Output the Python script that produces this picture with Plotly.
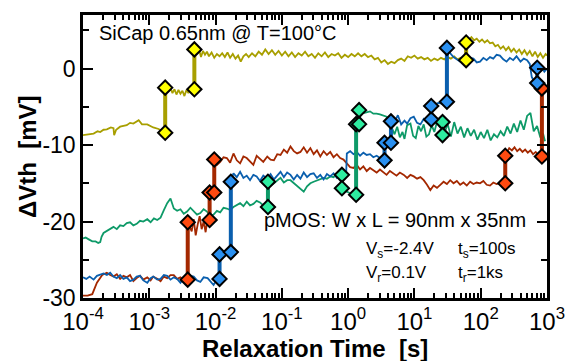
import plotly.graph_objects as go
import numpy as np

# ---------------- data (time given as log10 of seconds, dVth in mV) ----------------
yellow_log10_t = [-4.00,-3.92,-3.84,-3.78,-3.74,-3.69,-3.64,-3.58,-3.54,-3.53,-3.50,-3.44,-3.39,-3.34,-3.29,-3.24,-3.16,-3.11,-3.03,-2.98,-2.94,-2.86,-2.81,-2.76,
                  -2.76,-2.74,-2.71,-2.68,-2.65,-2.62,-2.59,-2.56,-2.53,-2.50,-2.47,-2.44,-2.41,-2.38,-2.35,-2.32,
                  -2.32,-2.28,-2.25,-2.22,-2.19,-2.16,-2.13,-2.10,-2.06,-2.02,-1.98,-1.94,-1.90,-1.86,-1.82,-1.78,-1.74,-1.70,-1.66,-1.62,-1.58,-1.54,-1.50,-1.45,-1.40,-1.35,-1.30,-1.25,-1.20,-1.15,-1.10,-1.05,-1.00,-0.95,-0.90,-0.85,-0.80,-0.75,-0.70,-0.65,-0.60,-0.55,-0.50,-0.45,-0.40,-0.35,-0.30,-0.25,-0.20,-0.15,-0.10,-0.05,0.00,0.05,0.10,0.15,0.20,0.25,0.30,0.35,0.40,0.45,0.50,0.55,0.60,0.65,0.70,0.75,0.80,0.85,0.90,0.95,1.00,1.05,1.10,1.15,1.20,1.25,1.30,1.35,1.40,1.45,1.50,1.55,1.60,1.65,1.70,1.78,
                  1.78,1.82,1.86,1.90,1.94,1.98,2.02,2.06,2.10,2.14,2.18,2.22,2.26,2.30,2.34,2.38,2.42,2.46,2.50,2.54,2.58,2.62,2.66,2.70,2.74,2.78,2.82,2.86,2.90,2.94,2.98,3.00]
yellow_dvth = [-8.7,-8.6,-8.5,-8.2,-8.3,-8.0,-7.96,-7.7,-7.8,-8.7,-8.0,-7.6,-7.5,-7.4,-7.1,-7.2,-6.75,-7.3,-7.3,-7.5,-7.7,-7.9,-8.1,-8.4,
               -2.5,-2.8,-3.0,-2.6,-3.2,-2.7,-3.4,-2.8,-3.3,-2.9,-3.6,-2.8,-3.2,-2.6,-3.1,-2.7,
               2.5,2.0,2.5,1.5,2.3,1.8,2.2,1.6,2.1,1.4,1.9,1.6,2.0,1.5,2.1,1.4,1.9,1.3,1.7,0.9,1.6,1.9,1.5,2.0,1.6,2.2,1.8,2.5,1.9,2.4,1.8,2.3,1.7,2.2,1.6,2.1,1.5,2.0,1.7,2.2,1.6,1.9,1.4,2.0,1.6,2.1,1.5,1.9,1.7,2.0,1.4,1.8,1.5,1.9,1.6,2.0,1.6,1.9,1.5,1.7,1.2,1.4,0.8,1.1,0.6,0.9,0.7,1.1,1.3,1.0,1.6,1.4,1.7,1.3,1.5,1.2,1.4,1.0,1.3,1.1,1.4,1.2,1.5,1.3,1.6,1.2,1.4,1.1,
               3.4,3.8,4.1,3.7,3.9,3.5,3.8,3.4,3.7,3.3,3.4,2.9,3.1,2.6,2.9,2.4,2.8,2.2,2.6,2.1,2.5,1.9,2.4,1.8,2.3,1.6,2.2,1.5,2.0,1.4,1.9,1.7]

blue_log10_t = [-4.00,-3.95,-3.90,-3.84,-3.79,-3.74,-3.69,-3.64,-3.59,-3.54,-3.49,-3.44,-3.39,-3.34,-3.29,-3.24,-3.19,-3.14,-3.09,-3.03,-2.98,-2.94,-2.88,-2.83,-2.78,-2.73,-2.68,-2.63,-2.58,-2.53,-2.48,-2.43,-2.38,-2.33,-2.28,-2.23,-2.18,-2.12,-2.08,-2.03,-1.98,-1.94,
                -1.94,-1.90,-1.86,-1.82,-1.79,-1.77,
                -1.77,-1.73,-1.68,-1.63,-1.58,-1.53,-1.48,-1.43,-1.38,-1.33,-1.28,-1.22,-1.17,-1.12,-1.07,-1.02,-0.97,-0.92,-0.87,-0.82,-0.77,-0.72,-0.67,-0.62,-0.57,-0.52,-0.47,-0.42,-0.37,-0.32,-0.27,-0.22,-0.17,-0.12,-0.07,-0.03,
                -0.02,0.03,0.08,0.13,0.18,0.23,0.28,0.33,0.38,0.43,0.48,0.549,
                0.549,0.60,0.646,
                0.646,0.70,0.75,0.80,0.85,0.89,0.94,0.99,1.04,1.09,1.14,1.19,1.253,
                1.253,1.30,1.36,1.42,1.49,
                1.49,1.54,1.59,1.64,1.69,1.74,1.79,1.84,1.89,1.94,1.99,2.04,2.09,2.14,2.19,2.24,2.29,2.34,2.39,2.44,2.49,2.54,2.60,2.65,2.70,2.74,2.77,2.80,2.852,
                2.852,2.88,2.92,2.96,3.00]
blue_dvth = [-27.3,-27.5,-27.2,-27.6,-27.1,-27.0,-26.8,-27.0,-26.7,-27.2,-27.4,-27.0,-27.5,-27.3,-27.8,-27.6,-27.2,-27.1,-27.7,-28.0,-27.4,-27.2,-27.6,-27.5,-27.0,-27.1,-27.6,-27.3,-27.5,-28.0,-27.4,-27.6,-27.1,-27.2,-27.7,-27.9,-27.3,-27.4,-27.8,-28.3,-27.6,-27.5,
             -24.3,-24.0,-24.5,-23.8,-24.2,-24.0,
             -14.8,-13.7,-14.2,-13.5,-14.3,-14.0,-14.6,-13.9,-14.1,-14.7,-14.0,-14.4,-13.8,-14.5,-14.0,-13.5,-14.2,-13.6,-13.9,-14.5,-13.9,-14.4,-13.6,-14.2,-13.8,-13.7,-14.3,-13.9,-14.5,-13.8,-14.1,-13.7,-14.3,-13.9,-14.2,-13.8,
             -11.1,-10.8,-11.2,-10.9,-11.4,-11.0,-11.3,-11.2,-11.6,-11.4,-11.7,-12.0,
             -9.7,-9.6,-9.7,
             -6.9,-7.0,-6.1,-7.3,-6.8,-7.2,-6.5,-6.3,-7.1,-7.3,-6.6,-7.0,-6.65,
             -4.9,-4.7,-4.5,-4.6,-4.35,
             2.7,2.0,1.5,1.2,0.9,1.3,1.0,1.4,1.3,0.8,0.9,1.4,1.1,1.5,1.3,1.8,1.7,1.2,0.9,1.4,1.1,1.6,0.9,1.3,1.1,0.6,-1.1,-1.6,-1.9,
             0.1,-0.3,0.2,-0.4,0.0]

red_log10_t = [-4.00,-3.93,-3.86,-3.79,-3.71,-3.64,-3.59,-3.54,-3.49,-3.44,-3.39,-3.34,-3.29,-3.24,-3.19,-3.14,-3.09,-3.03,-2.98,-2.94,-2.88,-2.83,-2.78,-2.73,-2.68,-2.63,-2.58,-2.53,-2.48,-2.42,
               -2.42,-2.39,-2.36,-2.33,-2.30,-2.27,-2.24,-2.21,-2.18,-2.15,-2.12,-2.09,
               -2.09,-2.05,-2.02,
               -2.02,-1.98,-1.93,-1.88,-1.83,-1.78,-1.73,-1.68,-1.63,-1.58,-1.53,-1.48,-1.43,-1.38,-1.33,-1.28,-1.22,-1.17,-1.12,-1.07,-1.02,-0.97,-0.92,-0.87,-0.82,-0.77,-0.72,-0.67,-0.62,-0.57,-0.52,-0.47,-0.42,-0.37,-0.32,-0.27,-0.22,-0.17,-0.12,-0.07,-0.02,0.03,0.08,0.13,0.18,0.23,0.28,0.33,0.38,0.43,0.48,0.53,0.58,0.63,0.68,0.73,0.78,0.84,0.89,0.94,0.99,1.04,1.09,1.14,1.19,1.24,1.29,1.34,1.39,1.44,1.49,1.54,1.59,1.64,1.69,1.74,1.79,1.84,1.89,1.94,1.99,2.04,2.09,2.14,2.19,2.24,2.29,2.33,2.37,
               2.37,2.40,2.43,2.47,2.51,2.55,2.59,2.63,2.67,2.71,2.75,2.79,2.83,2.87,2.923,
               2.923,2.96]
red_dvth = [-29.7,-29.7,-29.5,-28.0,-27.0,-26.7,-27.0,-27.2,-26.9,-27.5,-27.1,-27.3,-27.0,-27.8,-27.4,-27.1,-27.6,-27.3,-27.7,-27.2,-27.5,-27.8,-27.2,-27.4,-27.0,-27.0,-27.5,-27.3,-27.7,-27.6,
            -20.1,-20.6,-21.3,-19.7,-21.8,-20.4,-19.3,-21.0,-20.0,-21.4,-19.6,-19.8,
            -16.2,-16.5,-16.2,
            -11.9,-12.6,-12.2,-11.6,-11.7,-12.3,-11.1,-12.0,-12.4,-11.5,-11.7,-12.1,-12.6,-11.4,-11.8,-12.2,-11.5,-11.9,-12.0,-11.2,-11.3,-10.6,-11.0,-10.2,-10.8,-11.1,-10.9,-10.3,-11.0,-10.4,-11.2,-10.7,-11.5,-10.8,-11.3,-10.9,-11.6,-11.2,-11.7,-11.9,-12.4,-12.9,-13.0,-12.6,-13.2,-12.8,-13.4,-13.0,-13.3,-13.6,-13.2,-13.5,-13.9,-13.4,-13.7,-14.0,-13.6,-13.9,-14.3,-13.9,-14.1,-14.4,-14.2,-14.6,-15.2,-15.9,-15.3,-15.6,-15.2,-14.8,-15.1,-14.6,-15.0,-14.7,-15.2,-14.9,-15.3,-14.8,-15.1,-14.9,-15.0,-14.7,-15.2,-15.3,-14.9,-15.1,-15.0,-14.8,-15.0,
            -11.4,-10.9,-10.4,-10.7,-10.3,-10.8,-10.5,-10.9,-10.6,-11.0,-10.7,-11.2,-10.9,-11.3,-11.5,
            -2.6,-2.8]

green_log10_t = [-4.00,-3.96,-3.92,-3.86,-3.81,-3.77,-3.74,-3.72,-3.69,-3.64,-3.59,-3.54,-3.49,-3.44,-3.39,-3.34,-3.29,-3.24,-3.19,-3.14,-3.09,-3.03,-2.98,-2.93,-2.88,-2.83,-2.78,-2.73,-2.68,-2.65,-2.63,-2.58,-2.53,-2.48,-2.43,-2.38,-2.33,-2.28,-2.23,-2.18,-2.13,-2.08,-2.03,-1.98,-1.93,-1.88,-1.83,-1.78,-1.73,-1.68,-1.63,-1.58,-1.53,-1.48,-1.43,-1.38,-1.33,-1.28,-1.21,
                 -1.21,-1.17,-1.12,-1.07,-1.02,-0.97,-0.92,-0.87,-0.82,-0.77,-0.72,-0.67,-0.62,-0.57,-0.52,-0.47,-0.42,-0.37,-0.32,-0.27,-0.22,-0.17,-0.13,-0.094,
                 -0.094,-0.06,-0.02,0.03,0.08,0.12,
                 0.12,0.15,0.165,
                 0.165,0.20,0.24,0.28,0.33,0.38,0.43,0.48,0.53,0.58,0.62,0.66,0.70,0.74,0.78,0.82,0.85,0.89,0.94,0.98,1.02,1.06,1.10,1.14,1.18,1.22,1.26,1.30,1.34,1.38,1.424,
                 1.424,1.46,1.50,1.55,1.60,1.65,1.70,1.75,1.80,1.85,1.90,1.95,2.00,2.05,2.10,2.15,2.20,2.25,2.30,2.35,2.40,2.45,2.50,2.55,2.60,2.65,2.70,2.75,2.80,2.85,2.90,2.94,2.97]
green_dvth = [-22.2,-22.1,-22.3,-22.6,-22.6,-22.8,-22.7,-22.0,-21.5,-21.2,-21.0,-20.7,-21.0,-20.5,-20.6,-20.2,-20.1,-20.5,-20.3,-19.9,-20.0,-19.7,-20.1,-19.6,-19.8,-19.5,-18.5,-17.6,-17.0,-17.9,-18.3,-18.6,-18.4,-19.0,-18.7,-18.2,-18.6,-19.1,-18.9,-18.4,-18.7,-19.3,-19.1,-18.6,-18.8,-18.2,-18.3,-18.5,-18.1,-17.8,-17.6,-18.0,-17.4,-17.9,-17.7,-17.3,-17.5,-17.9,-18.1,
              -14.8,-15.3,-15.0,-14.6,-14.3,-14.9,-14.6,-14.6,-15.0,-15.4,-15.8,-16.1,-15.4,-15.0,-14.8,-14.6,-14.5,-14.3,-14.4,-14.1,-14.2,-13.7,-13.9,-13.9,
              -15.65,-15.9,-16.1,-16.3,-16.5,-16.5,
              -7.27,-7.3,-7.27,
              -5.44,-5.5,-5.8,-5.7,-5.6,-5.9,-5.9,-6.0,-6.1,-6.3,-6.9,-7.8,-8.6,-7.6,-9.0,-8.3,-9.2,-7.4,-7.2,-8.8,-9.1,-7.5,-8.2,-7.3,-8.9,-8.6,-7.4,-8.3,-7.0,-7.6,-7.0,
              -8.7,-8.3,-7.2,-8.9,-7.0,-8.5,-7.6,-9.0,-7.8,-8.8,-8.0,-9.3,-8.3,-9.1,-8.0,-9.4,-8.6,-9.0,-8.2,-8.8,-7.6,-8.5,-7.2,-8.3,-6.8,-8.0,-6.2,-5.8,-8.2,-7.5,-9.0,-8.5,-9.5]

# detected single-trap emission steps: log10 time, value before, value after
yellow_step_log10_t = [-2.76, -2.32, 1.78]
yellow_step_from = [-8.4, -2.7, 1.1]
yellow_step_to = [-2.5, 2.5, 3.4]

blue_step_log10_t = [-1.94, -1.77, 0.549, 0.646, 1.253, 1.49, 2.852]
blue_step_from = [-27.5, -24.0, -12.0, -9.7, -6.65, -4.35, -1.9]
blue_step_to = [-24.3, -14.8, -9.7, -6.9, -4.9, 2.7, 0.1]

red_step_log10_t = [-2.42, -2.09, -2.02, 2.37, 2.923]
red_step_from = [-27.6, -19.8, -16.2, -15.0, -11.5]
red_step_to = [-20.1, -16.2, -11.9, -11.4, -2.6]

green_step_log10_t = [-1.21, -0.094, 0.12, 0.165, 1.424]
green_step_from = [-18.1, -13.9, -16.5, -7.27, -7.0]
green_step_to = [-14.8, -15.65, -7.27, -5.44, -8.7]

x_tick_exponents = [-4, -3, -2, -1, 0, 1, 2, 3]
y_tick_values = [-30, -20, -10, 0]
y_tick_labels = ["-30", "-20", "-10", "0"]

# ---------------- styling ----------------
FONT = "Liberation Sans, Arial, Helvetica, sans-serif"
series = [
    ("yellow", yellow_log10_t, yellow_dvth, yellow_step_log10_t, yellow_step_from, yellow_step_to, "#A89F00", "#FFFF00"),
    ("green", green_log10_t, green_dvth, green_step_log10_t, green_step_from, green_step_to, "#0E9A68", "#2EEDA0"),
    ("red", red_log10_t, red_dvth, red_step_log10_t, red_step_from, red_step_to, "#A42800", "#FF4A10"),
    ("blue", blue_log10_t, blue_dvth, blue_step_log10_t, blue_step_from, blue_step_to, "#0A5FAE", "#2A90F0"),
]

fig = go.Figure()
for name, lt, dv, slt, sf, st, lc, mc in series:
    fig.add_trace(go.Scatter(x=np.power(10.0, lt), y=dv, mode="lines",
                             line=dict(color=lc, width=1.8), name=name,
                             showlegend=False, hoverinfo="skip"))

for name, lt, dv, slt, sf, st, lc, mc in [series[2], series[1], series[3], series[0]]:
    xs, ys = [], []
    for t, a, b in zip(slt, sf, st):
        xs += [10.0 ** t, 10.0 ** t, None]
        ys += [a, b, None]
    fig.add_trace(go.Scatter(x=xs, y=ys, mode="lines+markers",
                             line=dict(color=lc, width=4),
                             marker=dict(symbol="diamond", size=11, color=mc,
                                         line=dict(color="black", width=2)),
                             showlegend=False, hoverinfo="skip", connectgaps=False))

minor_x = [m * 10.0 ** e for e in range(-4, 3) for m in range(2, 10)]

fig.update_xaxes(type="log", range=[-4, 3], showline=True, linewidth=2.5, linecolor="black",
                 mirror="ticks", ticks="inside", ticklen=10, tickwidth=2, tickcolor="black",
                 tickmode="array", tickvals=[10.0 ** e for e in x_tick_exponents],
                 ticktext=["10<sup>%d</sup>" % e for e in x_tick_exponents],
                 tickfont=dict(family=FONT, size=24, color="black"),
                 automargin=False,
                 minor=dict(ticks="inside", ticklen=5, tickwidth=1.5, tickcolor="black",
                            tickmode="array", tickvals=minor_x, showgrid=False),
                 showgrid=False, zeroline=False)
fig.update_yaxes(range=[-30, 7], showline=True, linewidth=2.5, linecolor="black",
                 mirror="ticks", ticks="inside", ticklen=10, tickwidth=2, tickcolor="black",
                 tickmode="array", tickvals=y_tick_values, ticktext=y_tick_labels,
                 tickfont=dict(family=FONT, size=23, color="black"),
                 automargin=False,
                 minor=dict(ticks="inside", ticklen=6, tickwidth=2, tickcolor="black",
                            tickmode="array", tickvals=[-25, -15, -5, 5], showgrid=False),
                 showgrid=False, zeroline=False)

W_PLOT = 566 - 83 - 19
H_PLOT = 361 - 15 - 63
def px(x):
    return (x - 83) / W_PLOT
def py(y):
    return (298 - y) / H_PLOT

ann = [
    dict(text="SiCap 0.65nm @ T=100\u00b0C", x=px(97), y=py(33), size=20),
    dict(text="pMOS: W x L = 90nm x 35nm", x=px(262), y=py(220), size=20),
    dict(text="V<sub>s</sub>=-2.4V", x=px(364), y=py(250), size=17),
    dict(text="t<sub>s</sub>=100s", x=px(456), y=py(250), size=17),
    dict(text="V<sub>r</sub>=0.1V", x=px(364), y=py(274), size=17),
    dict(text="t<sub>r</sub>=1ks", x=px(456), y=py(274), size=17),
]
for a in ann:
    fig.add_annotation(text=a["text"], x=a["x"], y=a["y"], xref="paper", yref="paper",
                       xanchor="left", yanchor="middle", showarrow=False,
                       font=dict(family=FONT, size=a["size"], color="black"))

fig.add_annotation(text="<b>Relaxation Time\u00a0\u00a0[s]</b>", x=px(315), y=py(348),
                   xref="paper", yref="paper", xanchor="center", yanchor="middle",
                   showarrow=False, font=dict(family=FONT, size=24, color="black"))
fig.add_annotation(text="<b>\u0394Vth\u00a0\u00a0[mV]</b>", x=px(27), y=py(157),
                   xref="paper", yref="paper", xanchor="center", yanchor="middle",
                   textangle=-90, showarrow=False,
                   font=dict(family=FONT, size=24, color="black"))

fig.update_layout(width=566, height=361, margin=dict(l=83, r=19, t=15, b=63),
                  paper_bgcolor="white", plot_bgcolor="white", showlegend=False)

fig.write_html("out.html", config={"displayModeBar": False},
               post_script="document.body.style.margin='0';document.body.style.overflow='hidden';")
